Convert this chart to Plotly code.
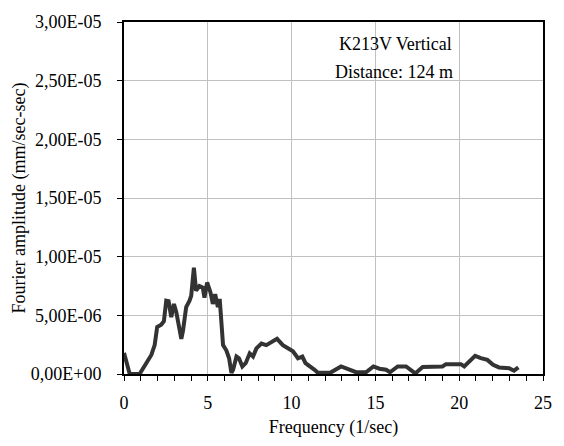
import plotly.graph_objects as go

# Fourier amplitude spectrum, station K213V, vertical component
freq = [0.0, 0.34, 0.93, 1.43, 1.63, 1.83, 1.98, 2.22, 2.38, 2.52, 2.66, 2.82, 2.98,
        3.12, 3.42, 3.52, 3.71, 3.91, 4.01, 4.17, 4.30, 4.50, 4.70, 4.80, 4.96,
        5.16, 5.30, 5.44, 5.60, 5.71, 5.91, 6.11, 6.27, 6.41, 6.51, 6.71, 6.86,
        7.06, 7.26, 7.50, 7.70, 7.90, 8.20, 8.49, 8.79, 9.13, 9.48, 9.78, 10.08,
        10.38, 10.64, 10.83, 11.12, 11.37, 11.57, 12.30, 12.95, 13.35, 13.85,
        14.44, 14.88, 15.24, 15.64, 15.87, 16.33, 16.83, 17.38, 17.82, 18.21,
        19.0, 19.21, 20.1, 20.3, 20.95, 21.29, 21.68, 22.02, 22.38, 22.98,
        23.27, 23.53]
amplitude = [1.80e-6, 0.0, 0.0, 1.07e-6, 1.62e-6, 2.46e-6, 4.00e-6, 4.20e-6, 4.50e-6,
             6.25e-6, 6.20e-6, 4.85e-6, 5.97e-6, 5.27e-6, 3.00e-6, 3.70e-6, 5.70e-6,
             6.25e-6, 6.67e-6, 9.05e-6, 7.10e-6, 7.50e-6, 7.37e-6, 6.50e-6, 7.80e-6,
             6.95e-6, 5.97e-6, 6.80e-6, 5.70e-6, 6.40e-6, 2.46e-6, 2.00e-6, 1.34e-6,
             0.10e-6, 0.36e-6, 1.49e-6, 1.34e-6, 0.64e-6, 0.92e-6, 1.76e-6, 1.49e-6,
             2.18e-6, 2.60e-6, 2.46e-6, 2.75e-6, 3.00e-6, 2.46e-6, 2.18e-6, 1.93e-6,
             1.34e-6, 1.49e-6, 0.92e-6, 0.64e-6, 0.36e-6, 0.10e-6, 0.10e-6, 0.64e-6,
             0.45e-6, 0.15e-6, 0.15e-6, 0.64e-6, 0.45e-6, 0.36e-6, 0.15e-6, 0.64e-6,
             0.64e-6, 0.05e-6, 0.60e-6, 0.64e-6, 0.64e-6, 0.84e-6, 0.84e-6, 0.64e-6,
             1.54e-6, 1.35e-6, 1.20e-6, 0.78e-6, 0.56e-6, 0.50e-6, 0.28e-6, 0.56e-6]

y_tick_vals = [0, 5e-6, 1e-5, 1.5e-5, 2e-5, 2.5e-5, 3e-5]
y_tick_text = ["0,00E+00", "5,00E-06", "1,00E-05", "1,50E-05", "2,00E-05",
               "2,50E-05", "3,00E-05"]
x_tick_vals = [0, 5, 10, 15, 20, 25]

serif = "Liberation Serif"
fs = 18

fig = go.Figure()
fig.add_trace(go.Scatter(
    x=freq, y=amplitude, mode="lines",
    line=dict(color="#333333", width=4),
    showlegend=False,
))

fig.update_layout(
    width=564, height=446,
    margin=dict(l=124, r=20, t=19, b=70),
    paper_bgcolor="white", plot_bgcolor="white",
    font=dict(family=serif, size=fs, color="black"),
    annotations=[
        dict(text="K213V Vertical", xref="paper", yref="paper",
             x=0.647, y=0.972, showarrow=False, font=dict(family=serif, size=fs)),
        dict(text="Distance: 124 m", xref="paper", yref="paper",
             x=0.645, y=0.891, showarrow=False, font=dict(family=serif, size=fs)),
    ],
)

fig.update_xaxes(
    range=[0, 25], tickvals=x_tick_vals,
    tickfont=dict(family=serif, size=fs),
    showgrid=True, gridcolor="#c0c0c0", gridwidth=1,
    showline=True, linecolor="black", linewidth=2, mirror=True,
    ticks="outside", ticklen=5, tickcolor="black", tickwidth=1,
    ticklabelstandoff=6,
    minor=dict(dtick=1, ticks="outside", ticklen=5, tickcolor="black", showgrid=False),
    zeroline=False,
    title=dict(text="Frequency (1/sec)", font=dict(family=serif, size=fs), standoff=9),
)
fig.update_yaxes(
    range=[0, 3e-5], tickvals=y_tick_vals, ticktext=y_tick_text,
    tickfont=dict(family=serif, size=fs),
    showgrid=True, gridcolor="#c0c0c0", gridwidth=1,
    showline=True, linecolor="black", linewidth=2, mirror=True,
    ticks="outside", ticklen=5, tickcolor="black", tickwidth=1,
    ticklabelstandoff=12,
    zeroline=False,
    title=dict(text="Fourier amplitude (mm/sec-sec)", font=dict(family=serif, size=fs), standoff=0),
)

fig.write_html("out.html")
